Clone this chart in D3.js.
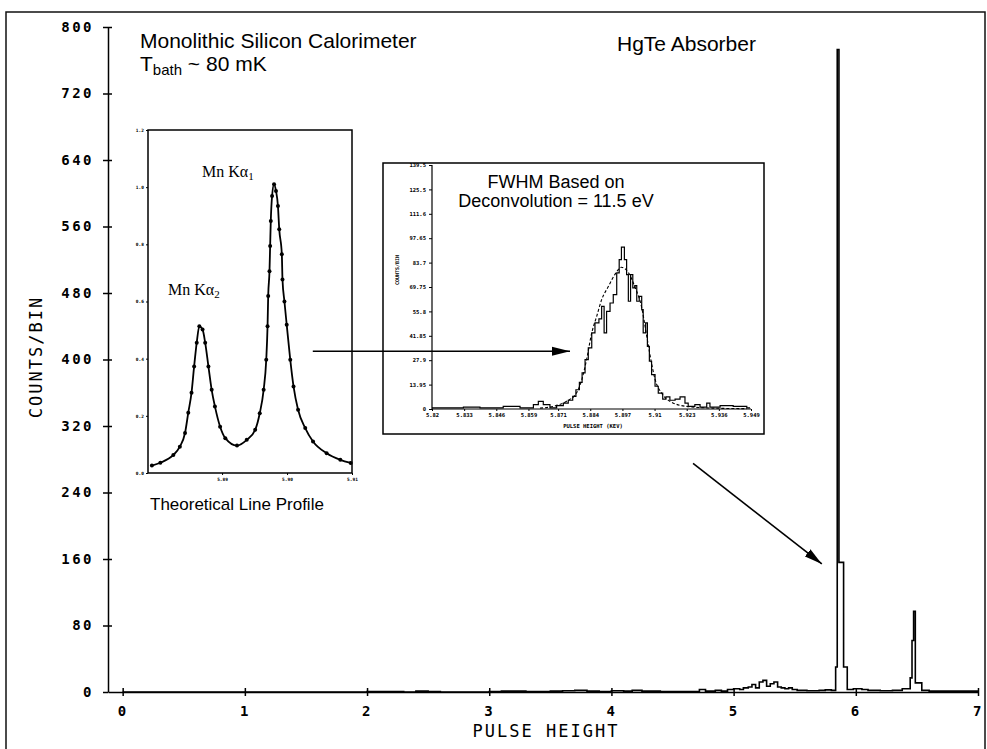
<!DOCTYPE html>
<html>
<head>
<meta charset="utf-8">
<script src="https://cdnjs.cloudflare.com/ajax/libs/d3/7.8.5/d3.min.js"></script>
<style>
  body { margin: 0; background: #fff; }
  svg { display: block; }
  .plotter { font-family: "DejaVu Sans Mono", monospace; font-weight: bold; }
  .sans { font-family: "Liberation Sans", Arial, sans-serif; }
  .serif { font-family: "Liberation Serif", "Times New Roman", serif; }
</style>
</head>
<body>
<svg id="chart"></svg>
<script>
const width = 987;
const height = 749;

// Main spectrum: bin start (pulse height) and counts in that bin
const pulseHeight = [0.0, 2.0, 2.3, 2.4, 2.5, 2.6, 3.0, 3.1, 3.3, 3.5, 3.6, 3.7, 3.8, 3.9, 4.0, 4.1, 4.17, 4.25, 4.4, 4.6,
    4.72, 4.77, 4.85, 4.9, 4.95, 5.0, 5.05, 5.08, 5.12, 5.15, 5.18, 5.21, 5.24, 5.27, 5.3, 5.33, 5.36, 5.39, 5.42, 5.45,
    5.48, 5.52, 5.6, 5.7, 5.75, 5.80, 5.835, 5.848, 5.862, 5.90, 5.93, 5.98, 6.05, 6.1, 6.2, 6.3, 6.38, 6.445, 6.46, 6.473,
    6.487, 6.54, 6.6, 7.0];
const countsPerBin = [0, 0.5, 0, 1, 0.5, 0, 0.5, 1, 0.5, 1, 1.5, 2, 1, 0.5, 1.5, 1, 2, 1, 0.5, 0.5,
    3, 1, 2, 1, 3, 4, 3, 5, 6, 9, 5, 12, 14, 7, 10, 12, 6, 5, 4, 5,
    3, 2, 1.5, 2, 2.5, 2, 30, 773, 156, 30, 3, 4, 3, 2, 1.5, 2, 4, 17, 62, 97,
    11, 2, 1, 1];
const countTicks = [0, 80, 160, 240, 320, 400, 480, 560, 640, 720, 800];
const pulseTicks = [0, 1, 2, 3, 4, 5, 6, 7];

// Left inset: theoretical Mn K-alpha line profile (eV, relative intensity)
const profileEnergy = [5879.2, 5880.5, 5882.5, 5883.5, 5884.3, 5884.8, 5885.3, 5885.7, 5886.1, 5886.5, 5887.0, 5887.4,
    5887.9, 5888.4, 5888.9, 5889.7, 5890.5, 5892.3, 5893.8, 5895.1, 5895.8, 5896.4, 5896.8, 5897.0, 5897.1, 5897.3,
    5897.4, 5897.5, 5897.7, 5898.0, 5898.3, 5898.6, 5898.8, 5899.2, 5899.3, 5899.6, 5899.95, 5900.5, 5901.0, 5901.7,
    5902.8, 5904.0, 5906.1, 5908.2, 5909.8];
const profileIntensity = [0.026, 0.036, 0.063, 0.092, 0.140, 0.211, 0.281, 0.373, 0.456, 0.513, 0.502, 0.456,
    0.373, 0.291, 0.233, 0.162, 0.122, 0.096, 0.116, 0.151, 0.209, 0.291, 0.396, 0.513, 0.619, 0.706,
    0.794, 0.882, 0.969, 1.010, 0.987, 0.934, 0.853, 0.765, 0.677, 0.600, 0.519, 0.396, 0.303, 0.221,
    0.157, 0.110, 0.069, 0.046, 0.035];
const profileYTicks = [0, 0.2, 0.4, 0.6, 0.8, 1.0, 1.2];
const profileXTicks = [5890, 5900, 5910];

// Right inset: measured histogram around the Mn K-alpha line and the deconvolution fit
const fwhmBinStart = [5.820, 5.8327, 5.8394, 5.8488, 5.8556, 5.8610, 5.8630, 5.8650, 5.8677, 5.8704, 5.8731, 5.8751,
    5.8769, 5.8782, 5.8796, 5.8807, 5.8819, 5.8832, 5.8846, 5.8859, 5.8875, 5.8886, 5.8896, 5.8906, 5.8920, 5.8933,
    5.8947, 5.8957, 5.8966, 5.8978, 5.8987, 5.8994, 5.9003, 5.9012, 5.9020, 5.9028, 5.9038, 5.9048, 5.9054, 5.9064,
    5.9071, 5.9079, 5.9088, 5.9102, 5.9115, 5.9133, 5.9146, 5.9162, 5.9183, 5.9203, 5.9223, 5.9236, 5.9263, 5.9284,
    5.9311, 5.9324, 5.9365, 5.9418, 5.9473, 5.9486];
const fwhmCounts = [0.6, 1.1, 0.6, 1.5, 0.6, 2.5, 4.4, 2.5, 0.6, 1.9, 3.4, 5,
    7.2, 11, 15.2, 20.6, 28.2, 34.9, 43.5, 49.2, 51.5, 58.7, 43.5, 55.8, 60.6, 65.4,
    77.8, 85.4, 92.6, 85.4, 76.8, 61.6, 76.8, 69.2, 70.5, 61.6, 64.4, 56.8, 43.5, 49.2,
    35.8, 27.3, 19.6, 13, 9.1, 5.7, 6.9, 5, 5.7, 6.9, 3.4, 1.5, 2.5, 1.1,
    3.4, 1.1, 1.9, 1.5, 0.6, 0.6];
const fitEnergy = [5.8637, 5.869, 5.8744, 5.8784, 5.8805, 5.8825, 5.8846, 5.8866, 5.8886, 5.8913, 5.8940, 5.8966,
    5.8994, 5.9020, 5.9048, 5.9068, 5.9084, 5.9102, 5.9129, 5.9162, 5.9229, 5.9337, 5.9473];
const fitCounts = [0.5, 1.5, 4.4, 9.1, 16.4, 28.2, 43.5, 53, 62.5, 70, 77, 81,
    78, 70, 58, 42, 29, 17, 9, 4.4, 1.5, 0.5, 0.2];
const fwhmYTicks = [0, 13.95, 27.9, 41.85, 55.8, 69.75, 83.7, 97.65, 111.6, 125.55, 139.5];
const fwhmYLabels = ["0", "13.95", "27.9", "41.85", "55.8", "69.75", "83.7", "97.65", "111.6", "125.5", "139.5"];
const fwhmXTicks = [5.82, 5.833, 5.846, 5.859, 5.871, 5.884, 5.897, 5.91, 5.923, 5.936, 5.949];

// Arrows, in main plot units [pulse height, counts]
const arrowStart = [[1.556, 410], [4.668, 275]];
const arrowEnd = [[3.661, 410], [5.722, 154]];

const svg = d3.select("#chart")
    .attr("width", width)
    .attr("height", height);

svg.append("defs").append("marker")
    .attr("id", "head")
    .attr("viewBox", "0 -5 18 10")
    .attr("refX", 18)
    .attr("refY", 0)
    .attr("markerUnits", "userSpaceOnUse")
    .attr("markerWidth", 18)
    .attr("markerHeight", 10)
    .attr("orient", "auto")
    .append("path")
    .attr("d", "M0,-4.5L18,0L0,4.5Z")
    .attr("fill", "#000");

// outer frame of the figure
svg.append("rect")
    .attr("x", 6).attr("y", 12)
    .attr("width", 979).attr("height", 780)
    .attr("fill", "none").attr("stroke", "#111").attr("stroke-width", 1.5);

// ---------- main plot ----------
const x = d3.scaleLinear().domain([-0.12, 7]).range([108, 978]);
const y = d3.scaleLinear().domain([0, 800]).range([692, 27]);

function styleAxis(g) {
    g.selectAll("path, line").attr("stroke", "#000").attr("stroke-width", 1.5);
    g.selectAll("text").attr("class", "plotter").style("font-size", "14px")
        .style("letter-spacing", "2.5px").attr("fill", "#000");
}

svg.append("g")
    .attr("transform", `translate(${x(-0.12)},0)`)
    .call(d3.axisLeft(y).tickValues(countTicks).tickSize(5).tickSizeOuter(0).tickPadding(9))
    .call(styleAxis);
svg.append("g")
    .attr("transform", `translate(${x(-0.12)},0)`)
    .call(d3.axisRight(y).tickValues(countTicks.slice(1)).tickSize(4).tickSizeOuter(0).tickFormat(""))
    .call(g => g.select(".domain").remove())
    .call(styleAxis);

svg.append("g")
    .attr("transform", `translate(0,${y(0)})`)
    .call(d3.axisBottom(x).tickValues(pulseTicks).tickSize(4).tickSizeOuter(0).tickPadding(10))
    .call(styleAxis);
svg.append("g")
    .attr("transform", `translate(0,${y(0)})`)
    .call(d3.axisTop(x).tickValues(pulseTicks).tickSize(4).tickSizeOuter(0).tickFormat(""))
    .call(g => g.select(".domain").remove())
    .call(styleAxis);

const spectrum = pulseHeight.map((p, i) => ({ p: p, c: countsPerBin[i] }));
svg.append("path")
    .datum(spectrum)
    .attr("fill", "none")
    .attr("stroke", "#000")
    .attr("stroke-width", 1.6)
    .attr("d", d3.line().x(d => x(d.p)).y(d => y(d.c)).curve(d3.curveStepAfter));

svg.append("text")
    .attr("class", "plotter")
    .attr("x", 546).attr("y", 737)
    .attr("text-anchor", "middle")
    .style("font-size", "17px").style("letter-spacing", "2px").style("font-weight", "normal")
    .text("PULSE HEIGHT");
svg.append("text")
    .attr("class", "plotter")
    .attr("transform", "translate(42,357) rotate(-90)")
    .attr("text-anchor", "middle")
    .style("font-size", "17px").style("letter-spacing", "2px").style("font-weight", "normal")
    .text("COUNTS/BIN");

svg.append("text").attr("class", "sans")
    .attr("x", 140).attr("y", 48).style("font-size", "21px")
    .text("Monolithic Silicon Calorimeter");
const tb = svg.append("text").attr("class", "sans")
    .attr("x", 140).attr("y", 71).style("font-size", "21px");
tb.append("tspan").text("T");
tb.append("tspan").attr("dy", 4).style("font-size", "15px").text("bath");
tb.append("tspan").attr("dy", -4).text(" ~ 80 mK");
svg.append("text").attr("class", "sans")
    .attr("x", 617).attr("y", 51).style("font-size", "21px")
    .text("HgTe Absorber");

// ---------- left inset: theoretical line profile ----------
const px = d3.scaleLinear().domain([5878.6, 5910]).range([148, 352]);
const py = d3.scaleLinear().domain([0, 1.2]).range([473, 130]);

svg.append("rect")
    .attr("x", px.range()[0]).attr("y", py.range()[1])
    .attr("width", px.range()[1] - px.range()[0])
    .attr("height", py.range()[0] - py.range()[1])
    .attr("fill", "#fff").attr("stroke", "#000").attr("stroke-width", 1.5);

function styleTiny(g, size) {
    g.selectAll("path, line").attr("stroke", "#000").attr("stroke-width", 1);
    g.selectAll("text").attr("class", "plotter").style("font-size", size + "px").attr("fill", "#000");
    g.select(".domain").remove();
}
svg.append("g")
    .attr("transform", `translate(${px.range()[0]},0)`)
    .call(d3.axisLeft(py).tickValues(profileYTicks).tickSize(2).tickPadding(2).tickFormat(d3.format(".1f")))
    .call(g => styleTiny(g, 4.5));
svg.append("g")
    .attr("transform", `translate(0,${py.range()[0]})`)
    .call(d3.axisBottom(px).tickValues(profileXTicks).tickSize(2).tickPadding(3).tickFormat(d => (d / 1000).toFixed(2)))
    .call(g => styleTiny(g, 4.5));

const profile = profileEnergy.map((e, i) => ({ e: e, v: profileIntensity[i] }));
svg.append("path")
    .datum(profile)
    .attr("fill", "none")
    .attr("stroke", "#000")
    .attr("stroke-width", 1.8)
    .attr("d", d3.line().x(d => px(d.e)).y(d => py(d.v)).curve(d3.curveMonotoneX));
svg.append("g").selectAll("circle")
    .data(profile)
    .join("circle")
    .attr("cx", d => px(d.e))
    .attr("cy", d => py(d.v))
    .attr("r", 2)
    .attr("fill", "#000");

const ka1 = svg.append("text").attr("class", "serif")
    .attr("x", 202).attr("y", 177).style("font-size", "16px");
ka1.append("tspan").text("Mn K\u03b1");
ka1.append("tspan").attr("dy", 3).style("font-size", "11px").text("1");
const ka2 = svg.append("text").attr("class", "serif")
    .attr("x", 168).attr("y", 295).style("font-size", "16px");
ka2.append("tspan").text("Mn K\u03b1");
ka2.append("tspan").attr("dy", 3).style("font-size", "11px").text("2");

svg.append("text").attr("class", "sans")
    .attr("x", 150).attr("y", 510).style("font-size", "17px")
    .text("Theoretical Line Profile");

// ---------- right inset: measured line with deconvolution ----------
const fx = d3.scaleLinear().domain([5.82, 5.949]).range([432, 751]);
const fy = d3.scaleLinear().domain([0, 139.5]).range([409, 165]);

svg.append("rect")
    .attr("x", 383).attr("y", 163)
    .attr("width", 381).attr("height", 271)
    .attr("fill", "#fff").attr("stroke", "#000").attr("stroke-width", 1.5);

svg.append("g")
    .attr("transform", `translate(${fx.range()[0]},0)`)
    .call(d3.axisLeft(fy).tickValues(fwhmYTicks).tickSize(3).tickPadding(3).tickFormat((d, i) => fwhmYLabels[i]))
    .call(g => styleTiny(g, 5.5));
svg.append("g")
    .attr("transform", `translate(0,${fy.range()[0]})`)
    .call(d3.axisBottom(fx).tickValues(fwhmXTicks).tickSize(2).tickPadding(2).tickFormat(d => String(d)))
    .call(g => styleTiny(g, 5.5));
svg.append("line")
    .attr("x1", fx.range()[0]).attr("x2", fx.range()[0])
    .attr("y1", fy.range()[0]).attr("y2", fy.range()[1])
    .attr("stroke", "#000").attr("stroke-width", 1.2);
svg.append("line")
    .attr("x1", fx.range()[0]).attr("x2", fx.range()[1])
    .attr("y1", fy.range()[0]).attr("y2", fy.range()[0])
    .attr("stroke", "#000").attr("stroke-width", 1.2);

svg.append("text").attr("class", "plotter")
    .attr("transform", "translate(399,270) rotate(-90)")
    .attr("text-anchor", "middle").style("font-size", "5px")
    .text("COUNTS/BIN");
svg.append("text").attr("class", "plotter")
    .attr("x", 593).attr("y", 428)
    .attr("text-anchor", "middle").style("font-size", "5.5px")
    .text("PULSE HEIGHT (KEV)");

const measured = fwhmBinStart.map((e, i) => ({ e: e, c: fwhmCounts[i] }));
svg.append("path")
    .datum(measured)
    .attr("fill", "none")
    .attr("stroke", "#000")
    .attr("stroke-width", 1.2)
    .attr("d", d3.line().x(d => fx(d.e)).y(d => fy(d.c)).curve(d3.curveStepAfter));

const fit = fitEnergy.map((e, i) => ({ e: e, c: fitCounts[i] }));
svg.append("path")
    .datum(fit)
    .attr("fill", "none")
    .attr("stroke", "#000")
    .attr("stroke-width", 1.1)
    .attr("stroke-dasharray", "3,2")
    .attr("d", d3.line().x(d => fx(d.e)).y(d => fy(d.c)).curve(d3.curveMonotoneX));

svg.append("text").attr("class", "sans")
    .attr("x", 556).attr("y", 188).attr("text-anchor", "middle").style("font-size", "18px")
    .text("FWHM Based on");
svg.append("text").attr("class", "sans")
    .attr("x", 556).attr("y", 207).attr("text-anchor", "middle").style("font-size", "18px")
    .text("Deconvolution = 11.5 eV");

// ---------- arrows ----------
svg.append("g").selectAll("line")
    .data(arrowStart.map((s, i) => ({ s: s, e: arrowEnd[i] })))
    .join("line")
    .attr("x1", d => x(d.s[0])).attr("y1", d => y(d.s[1]))
    .attr("x2", d => x(d.e[0])).attr("y2", d => y(d.e[1]))
    .attr("stroke", "#000").attr("stroke-width", 1.6)
    .attr("marker-end", "url(#head)");
</script>
</body>
</html>
